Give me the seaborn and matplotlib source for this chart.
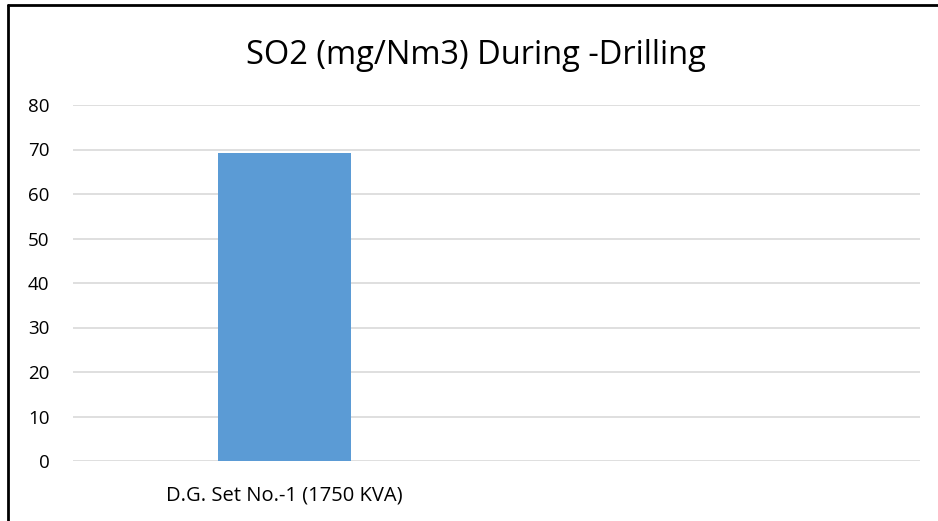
import matplotlib
matplotlib.use("Agg")
import matplotlib.pyplot as plt
import seaborn as sns
import pandas as pd
from matplotlib.lines import Line2D

categories = ["D.G. Set No.-1 (1750 KVA)", " "]
values = [69.3, float("nan")]
yticks = [0, 10, 20, 30, 40, 50, 60, 70, 80]
title = "SO2 (mg/Nm3) During -Drilling"

sns.set_theme(style="white")
plt.rcParams['font.family'] = ['Open Sans', 'DejaVu Sans']
plt.rcParams['text.color'] = 'black'

W, H = 938, 521
fig = plt.figure(figsize=(W / 100, H / 100), dpi=100)
ax = fig.add_axes([73 / W, 1 - 461 / H, (920 - 73) / W, (461 - 105) / H])

df = pd.DataFrame({"cat": categories, "val": values})
sns.barplot(data=df, x="cat", y="val", order=categories, color="#5B9BD5",
            saturation=1, width=0.315, linewidth=0, edgecolor="none", ax=ax)

ax.set_ylim(0, 80)
ax.set_yticks(yticks)
ax.set_xlim(-0.5, 1.5)
ax.grid(axis="y", color="#D9D9D9", linewidth=1.2)
ax.set_axisbelow(True)
for s in ax.spines.values():
    s.set_visible(False)
ax.set_xlabel("")
ax.set_ylabel("")
ax.tick_params(axis="both", length=0, colors="#000000")
ax.tick_params(axis="y", pad=17, labelsize=13.5)
ax.tick_params(axis="x", pad=18, labelsize=14.5)
for lab in ax.get_yticklabels():
    lab.set_horizontalalignment("right")

fig.text(476 / W, 1 - 56 / H, title, ha="center", va="center", fontsize=23.5, color="black")

# outer chart border (left and top visible)
fig.add_artist(Line2D([8 / W, 8 / W], [0, 1 - 5 / H], transform=fig.transFigure, color="black", linewidth=2))
fig.add_artist(Line2D([8 / W, 1], [1 - 5 / H, 1 - 5 / H], transform=fig.transFigure, color="black", linewidth=2))

fig.savefig("out.png", dpi=100)
